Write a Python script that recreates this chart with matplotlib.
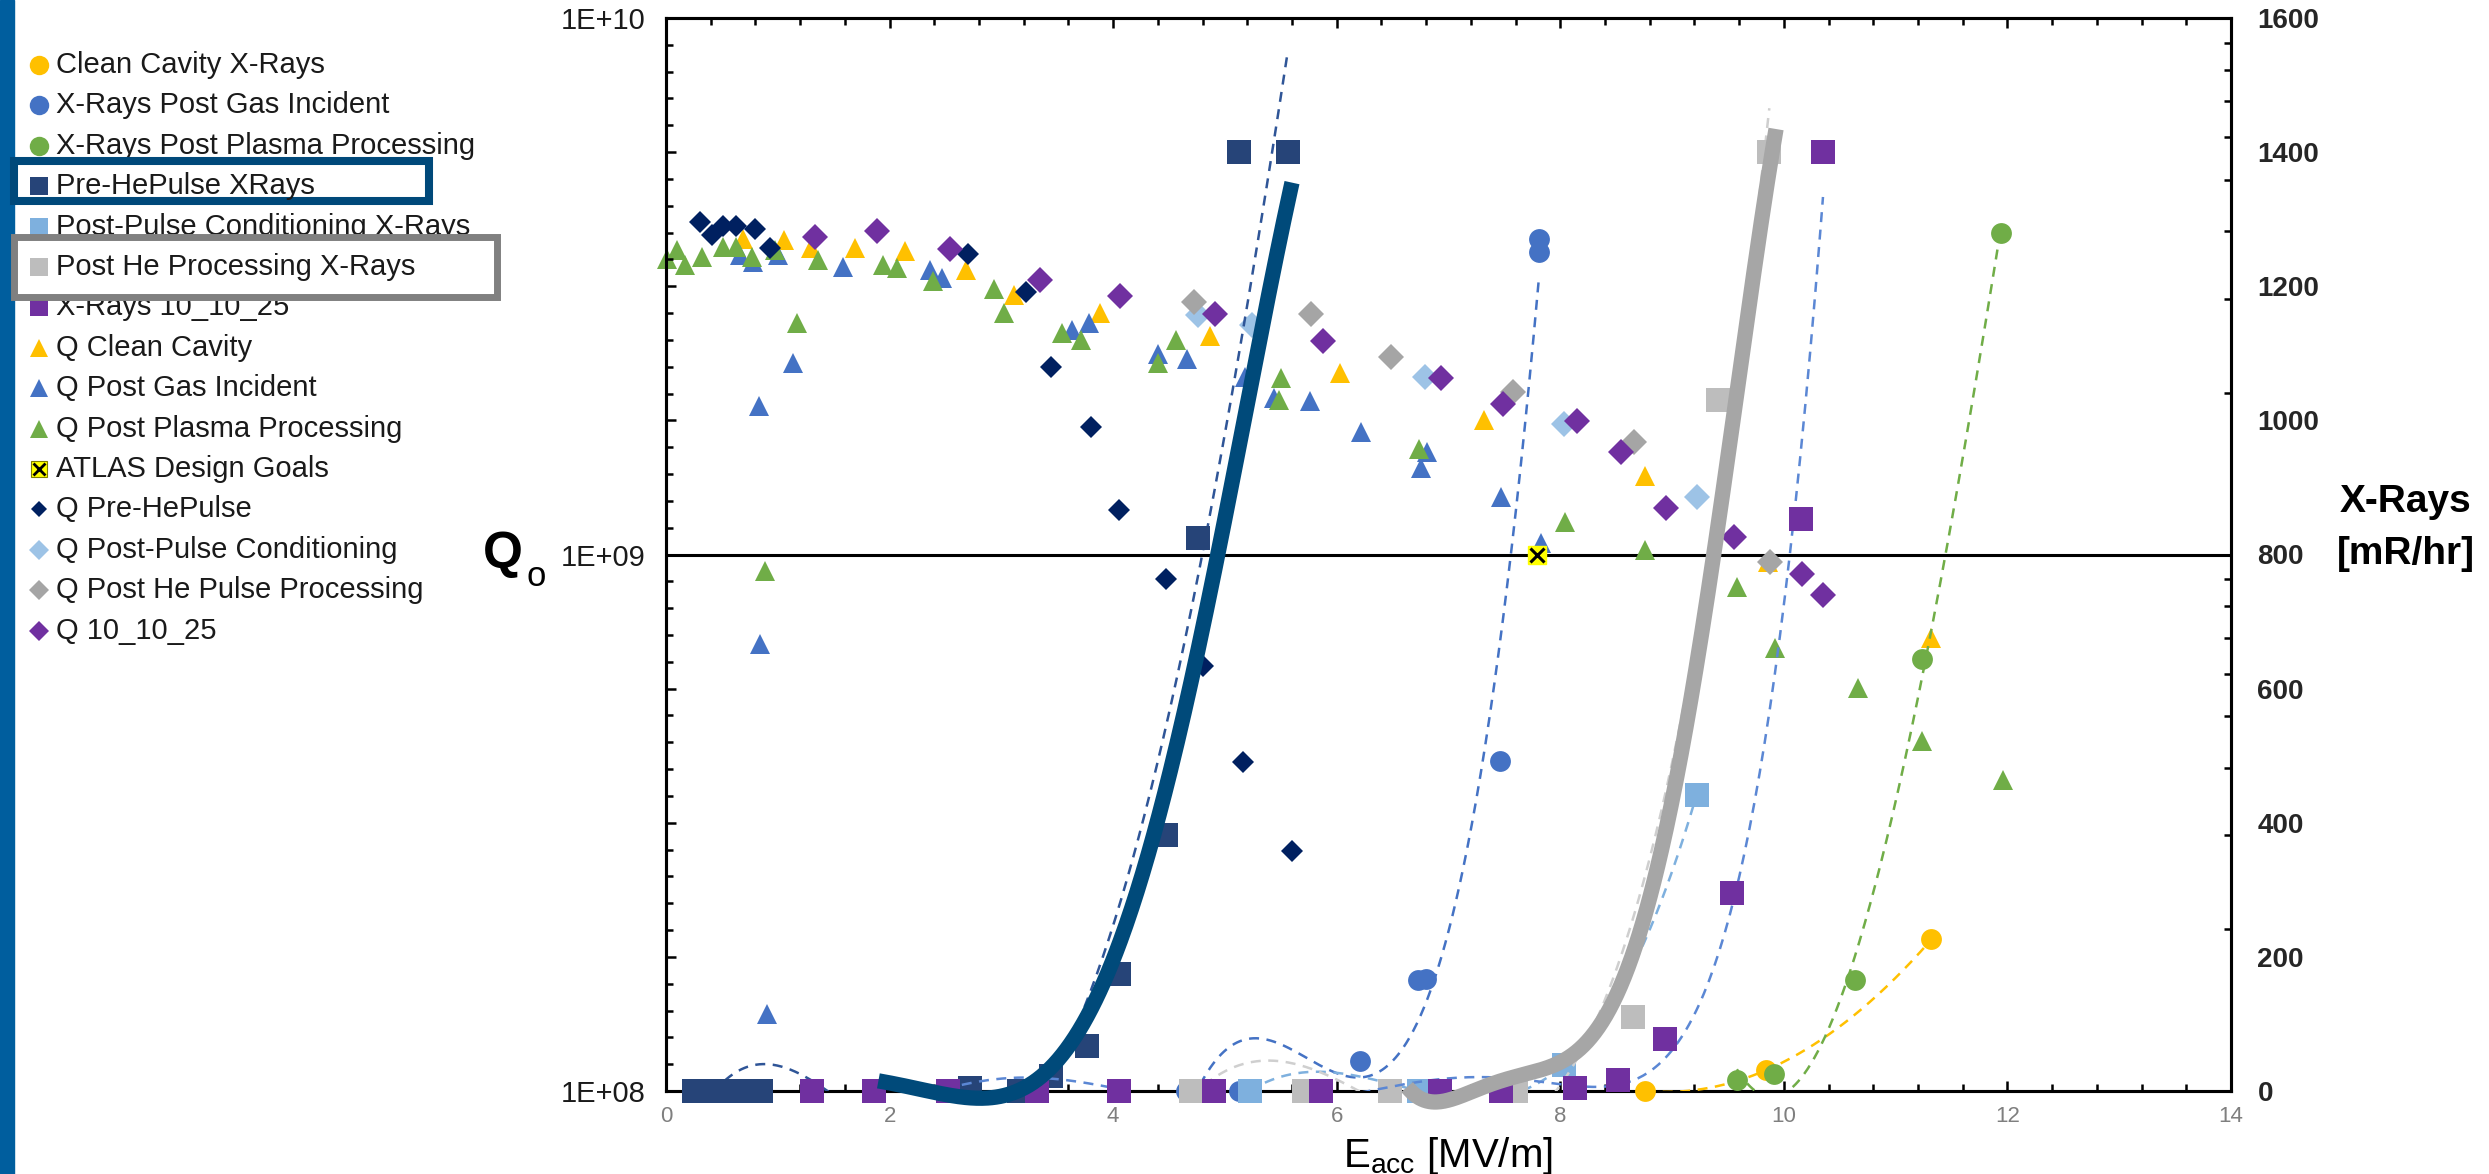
import numpy as np
import matplotlib
matplotlib.use("Agg")
import matplotlib.pyplot as plt
from matplotlib.lines import Line2D
from matplotlib.patches import Rectangle
from matplotlib.ticker import MultipleLocator, FixedLocator, LogLocator, NullFormatter, FuncFormatter

plt.rcParams['font.family'] = ['Liberation Sans', 'DejaVu Sans']
plt.rcParams['mathtext.fontset'] = 'custom'
plt.rcParams['mathtext.rm'] = 'Liberation Sans'
plt.rcParams['mathtext.it'] = 'Liberation Sans:italic'
plt.rcParams['mathtext.bf'] = 'Liberation Sans:bold'

# ---- Q0 measurements (left axis, log) ----
q_clean_e = [0.69, 1.06, 1.30, 1.69, 2.14, 2.68, 3.11, 3.88, 4.87, 6.03, 7.32, 8.76, 9.86, 11.32]
q_clean = [3.88e9, 3.85e9, 3.72e9, 3.72e9, 3.68e9, 3.39e9, 3.05e9, 2.82e9, 2.55e9, 2.18e9,
           1.78e9, 1.40e9, 9.7e8, 7.0e8]

q_gas_e = [0.66, 0.78, 0.835, 0.84, 0.90, 1.00, 1.14, 1.58, 2.36, 2.47, 3.63, 3.78, 4.40, 4.66,
           5.18, 5.44, 5.76, 6.22, 6.75, 6.81, 7.47, 7.83]
q_gas = [3.62e9, 3.51e9, 1.89e9, 6.8e8, 1.39e8, 3.62e9, 2.27e9, 3.43e9, 3.39e9, 3.27e9, 2.62e9,
         2.70e9, 2.36e9, 2.31e9, 2.14e9, 1.96e9, 1.93e9, 1.69e9, 1.45e9, 1.55e9, 1.28e9, 1.05e9]

q_plasma_e = [0.01, 0.10, 0.17, 0.32, 0.51, 0.63, 0.77, 0.89, 0.975, 1.17, 1.36, 1.94, 2.07, 2.385,
              2.93, 3.02, 3.54, 3.71, 4.40, 4.56, 5.48, 5.50, 6.74, 8.04, 8.76, 9.58, 9.92, 10.66,
              11.24, 11.96]
q_plasma = [3.56e9, 3.70e9, 3.47e9, 3.59e9, 3.75e9, 3.75e9, 3.59e9, 9.3e8, 3.70e9, 2.70e9, 3.54e9,
            3.47e9, 3.42e9, 3.24e9, 3.13e9, 2.82e9, 2.59e9, 2.51e9, 2.27e9, 2.51e9, 1.94e9, 2.13e9,
            1.57e9, 1.15e9, 1.02e9, 8.7e8, 6.7e8, 5.65e8, 4.5e8, 3.8e8]

atlas_e = [7.79]
atlas_q = [1.0e9]

q_prehe_e = [0.30, 0.41, 0.51, 0.63, 0.80, 0.93, 2.70, 3.22, 3.44, 3.80, 4.05, 4.47, 4.80, 5.16, 5.60]
q_prehe = [4.17e9, 3.94e9, 4.10e9, 4.10e9, 4.05e9, 3.73e9, 3.63e9, 3.09e9, 2.24e9, 1.73e9, 1.21e9,
           9.0e8, 6.2e8, 4.1e8, 2.8e8]

q_postpulse_e = [4.76, 5.24, 6.79, 8.03, 9.22]
q_postpulse = [2.79e9, 2.68e9, 2.14e9, 1.75e9, 1.28e9]

q_posthe_e = [4.72, 5.77, 6.49, 7.58, 8.66, 9.88]
q_posthe = [2.96e9, 2.81e9, 2.33e9, 2.01e9, 1.62e9, 9.7e8]

q_1010_e = [1.33, 1.885, 2.54, 3.345, 4.06, 4.91, 5.88, 6.93, 7.49, 8.15, 8.54, 8.95, 9.55, 10.16, 10.35]
q_1010 = [3.90e9, 4.01e9, 3.71e9, 3.25e9, 3.03e9, 2.81e9, 2.50e9, 2.13e9, 1.91e9, 1.77e9, 1.55e9,
          1.22e9, 1.08e9, 9.2e8, 8.4e8]

# ---- X-ray measurements (right axis, mR/hr) ----
x_clean_e = [8.76, 9.84, 11.32]
x_clean = [0, 31, 226]

x_gas_e = [4.65, 5.13, 6.21, 6.73, 6.80, 7.46, 7.81, 7.81]
x_gas = [0, 0, 44, 165, 167, 492, 1251, 1271]

x_plasma_e = [9.58, 9.91, 10.64, 11.24, 11.94]
x_plasma = [16, 26, 166, 644, 1280]

x_prehe_e = [0.25, 0.40, 0.55, 0.70, 0.85, 2.72, 3.16, 3.44, 3.77, 4.05, 4.47, 4.76, 5.13, 5.56]
x_prehe = [0, 0, 0, 0, 0, 5, 0, 22, 67, 174, 382, 825, 1400, 1400]

x_postpulse_e = [5.22, 6.74, 8.03, 9.22]
x_postpulse = [0, 0, 39, 442]

x_posthe_e = [4.70, 5.71, 6.48, 7.60, 8.65, 9.41, 9.87]
x_posthe = [0, 0, 0, 0, 111, 1030, 1400]

x_1010_e = [1.31, 1.86, 2.52, 3.32, 4.05, 4.90, 5.86, 6.92, 7.47, 8.13, 8.52, 8.94, 9.54, 10.15, 10.35]
x_1010 = [0, 0, 0, 0, 0, 0, 0, 0, 0, 4, 17, 78, 295, 853, 1400]

# hand-drawn guide curves over the two highlighted x-ray sets
guide_prehe_e = [1.90, 2.24, 2.64, 2.96, 3.36, 3.76, 4.16, 4.56, 4.96, 5.60]
guide_prehe = [17, 0, -12, -3, 36, 83, 273, 529, 808, 1356]
guide_posthe_e = [6.63, 7.16, 7.61, 7.91, 8.20, 8.50, 8.65, 8.98, 9.28, 9.61, 9.93]
guide_posthe = [6, -3, 16, 36, 81, 151, 184, 392, 749, 1047, 1441]

legend_labels = ["Clean Cavity X-Rays", "X-Rays Post Gas Incident", "X-Rays Post Plasma Processing",
                 "Pre-HePulse XRays", "Post-Pulse Conditioning X-Rays", "Post He Processing X-Rays",
                 "X-Rays 10_10_25", "Q Clean Cavity", "Q Post Gas Incident", "Q Post Plasma Processing",
                 "ATLAS Design Goals", "Q Pre-HePulse", "Q Post-Pulse Conditioning",
                 "Q Post He Pulse Processing", "Q 10_10_25"]

YELLOW = '#ffc000'
BLUE = '#4472c4'
GREEN = '#70ad47'
NAVY_SQ = '#264478'
LBLUE_SQ = '#7eb0de'
GREY_SQ = '#bdbdbd'
PURPLE = '#7030a0'
NAVY_D = '#002060'
LBLUE_D = '#9dc3e6'
GREY_D = '#a5a5a5'
THICK_NAVY = '#004a7a'
THICK_GREY = '#a6a6a6'

W, H = 2489, 1174
fig = plt.figure(figsize=(W / 100, H / 100), dpi=100)
ax = fig.add_axes([666 / W, 1 - 1091 / H, (2231 - 666) / W, (1091 - 18) / H])
ax2 = ax.twinx()

# Q series on the log axis
def qplot(x, y, marker, ms, color, z):
    ax.plot(x, y, linestyle='none', marker=marker, ms=ms, color=color, mec=color, mew=0,
            clip_on=False, zorder=z)

ax.axhline(1e9, color='black', lw=2.2, zorder=1.5)
qplot(q_clean_e, q_clean, '^', 15, YELLOW, 3)
qplot(q_gas_e, q_gas, '^', 15, BLUE, 3.1)
qplot(q_plasma_e, q_plasma, '^', 15, GREEN, 3.2)
ax.plot(atlas_e, atlas_q, linestyle='none', marker='s', ms=13, color='#ffff00', mec='#ffff00',
        clip_on=False, zorder=3.3)
ax.plot(atlas_e, atlas_q, linestyle='none', marker='x', ms=10, color='black', mew=2.2,
        clip_on=False, zorder=3.31)
qplot(q_prehe_e, q_prehe, 'D', 11, NAVY_D, 3.4)
qplot(q_postpulse_e, q_postpulse, 'D', 13, LBLUE_D, 3.5)
qplot(q_posthe_e, q_posthe, 'D', 13, GREY_D, 3.6)
qplot(q_1010_e, q_1010, 'D', 13, PURPLE, 3.7)

ax.set_yscale('log')
ax.set_ylim(1e8, 1e10)
ax.set_xlim(0, 14)
ax.yaxis.set_major_locator(FixedLocator([1e8, 1e9, 1e10]))
ax.yaxis.set_major_formatter(FuncFormatter(lambda v, p: "1E+%02d" % int(round(np.log10(v)))))
ax.yaxis.set_minor_locator(LogLocator(base=10, subs=np.arange(2, 10)))
ax.yaxis.set_minor_formatter(NullFormatter())
ax.tick_params(axis='y', which='both', left=False, right=True, labelleft=True, labelright=False,
               direction='in', labelsize=21, pad=15, width=1.8, labelcolor='#1a1a1a')
ax.tick_params(axis='y', which='major', length=7)
ax.tick_params(axis='y', which='minor', length=5)

ax.xaxis.set_major_locator(MultipleLocator(2))
ax.xaxis.set_minor_locator(MultipleLocator(0.4))
ax.tick_params(axis='x', which='both', bottom=True, top=True, direction='in', labelsize=16,
               labelcolor='#7f7f7f', pad=11, width=1.8)
ax.tick_params(axis='x', which='major', length=7)
ax.tick_params(axis='x', which='minor', length=5)

for a in (ax, ax2):
    for s in a.spines.values():
        s.set_linewidth(2.2)
        s.set_color('black')

# X-ray series on the linear axis, each with a polynomial trendline
def xplot(x, y, marker, ms, color, z, deg=None, tcolor=None):
    if deg is not None:
        c = np.polyfit(x, y, deg)
        xx = np.linspace(min(x), max(x), 400)
        ax2.plot(xx, np.polyval(c, xx), color=tcolor or color, lw=1.8, dashes=(4, 3), zorder=z - 0.05)
    ax2.plot(x, y, linestyle='none', marker=marker, ms=ms, color=color, mec=color, mew=0,
             clip_on=False, zorder=z)

xplot(x_clean_e, x_clean, 'o', 15, YELLOW, 4.0, 2)
xplot(x_gas_e, x_gas, 'o', 15, BLUE, 4.1, 3)
xplot(x_plasma_e, x_plasma, 'o', 15, GREEN, 4.2, 3)
xplot(x_prehe_e, x_prehe, 's', 17, NAVY_SQ, 4.3, 4, '#2f5597')
xplot(x_postpulse_e, x_postpulse, 's', 17, LBLUE_SQ, 4.4, 3)
xplot(x_posthe_e, x_posthe, 's', 17, GREY_SQ, 4.5, 4, '#cfcfcf')
xplot(x_1010_e, x_1010, 's', 17, PURPLE, 4.6, 6, '#5b87d4')

# guide curves
for ge, gv, col in ((guide_prehe_e, guide_prehe, THICK_NAVY), (guide_posthe_e, guide_posthe, THICK_GREY)):
    c = np.polyfit(ge, gv, 5)
    xx = np.linspace(min(ge), max(ge), 300)
    ax2.plot(xx, np.polyval(c, xx), color=col, lw=11, solid_capstyle='butt', clip_on=False, zorder=6)

ax2.set_ylim(0, 1600)
ax2.yaxis.set_major_locator(MultipleLocator(200))
ax2.yaxis.set_minor_locator(MultipleLocator(40))
ax2.tick_params(axis='y', which='both', left=True, right=False, labelleft=False, labelright=True,
                direction='in', labelsize=20, pad=19, width=1.8, labelcolor='#262626')
ax2.tick_params(axis='y', which='major', length=7)
ax2.tick_params(axis='y', which='minor', length=5)
for lab in ax2.get_yticklabels():
    lab.set_fontweight('bold')

# axis titles
fig.text(483 / W, 1 - 554 / H, 'Q', fontsize=37, fontweight='bold', ha='left', va='center')
fig.text(527 / W, 1 - 577 / H, 'o', fontsize=25, ha='left', va='center')
fig.text(1448 / W, 1 - 1167 / H, r'E$_{\mathrm{acc}}$ [MV/m]', fontsize=29, ha='center', va='baseline')
fig.text(2406 / W, 1 - 502 / H, 'X-Rays', fontsize=28, fontweight='bold', ha='center', va='center')
fig.text(2406 / W, 1 - 554 / H, '[mR/hr]', fontsize=28, fontweight='bold', ha='center', va='center')

# left side bar
fig.add_artist(Rectangle((0, 0), 14 / W, 1, transform=fig.transFigure, color='#005e9e', zorder=1))

# legend
handles = [('o', 14, YELLOW), ('o', 14, BLUE), ('o', 14, GREEN), ('s', 13, NAVY_SQ), ('s', 13, LBLUE_SQ),
           ('s', 13, GREY_SQ), ('s', 13, PURPLE), ('^', 13, YELLOW), ('^', 13, BLUE), ('^', 13, GREEN),
           ('atlas', 12, '#ffff00'), ('D', 8, NAVY_D), ('D', 10, LBLUE_D), ('D', 10, GREY_D),
           ('D', 10, PURPLE)]
for i, (lab, (mk, ms, col)) in enumerate(zip(legend_labels, handles)):
    yy = 1 - (65 + 40.4 * i) / H
    z = 5 if i in (3, 5) else 3
    if mk == 'atlas':
        fig.add_artist(Line2D([39 / W], [yy], transform=fig.transFigure, marker='s', ms=ms, color=col,
                              mec='#808000', mew=0.8, linestyle='none', zorder=z))
        fig.add_artist(Line2D([39 / W], [yy], transform=fig.transFigure, marker='x', ms=8, color='black',
                              mew=2, linestyle='none', zorder=z))
    else:
        fig.add_artist(Line2D([39 / W], [yy], transform=fig.transFigure, marker=mk, ms=ms, color=col,
                              mew=0, linestyle='none', zorder=z))
    fig.text(56 / W, yy, lab, fontsize=21, color='#1a1a1a', ha='left', va='center', zorder=z)

# highlight boxes
fig.add_artist(Rectangle((14 / W, 1 - 201 / H), (429 - 14) / W, (201 - 161) / H, transform=fig.transFigure,
                         facecolor='white', edgecolor='#00497a', lw=5.8, zorder=4))
fig.add_artist(Rectangle((13.5 / W, 1 - 296.5 / H), (496.5 - 13.5) / W, (296.5 - 236.5) / H,
                         transform=fig.transFigure, facecolor='white', edgecolor='#808080', lw=5,
                         zorder=4))

fig.savefig('out.png', dpi=100)
